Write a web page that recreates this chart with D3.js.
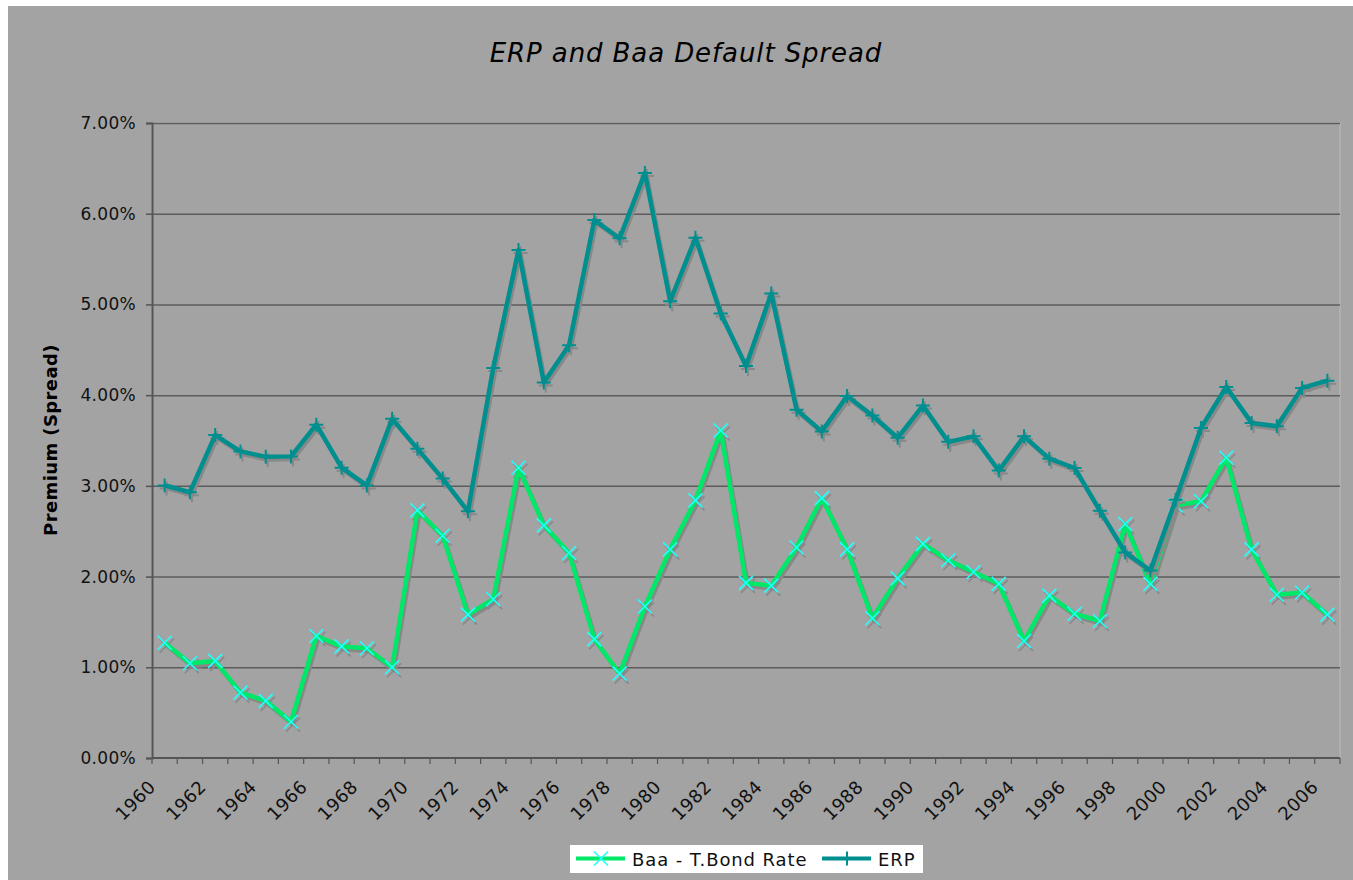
<!DOCTYPE html>
<html>

<head>
	<meta charset="utf-8">
	<style type="text/css">
		body {
			margin: 0;
			background-color: white;
			font-family: "DejaVu Sans", Verdana, sans-serif;
		}
	</style>
	<title>ERP and Baa Default Spread</title>
</head>

<body>
	<div id="chart"></div>
	<script src="https://cdnjs.cloudflare.com/ajax/libs/d3/7.8.5/d3.min.js"></script>
	<script>
		// Data (values in %)
		var years = d3.range(1960, 2007);
		var yearLabels = years.filter(function(d) { return d % 2 === 0; });
		var baaSpread = [1.27, 1.045, 1.07, 0.72, 0.63, 0.40, 1.345, 1.23, 1.21, 1.00,
			2.73, 2.45, 1.58, 1.75, 3.20, 2.565, 2.26, 1.31, 0.93, 1.67,
			2.30, 2.84, 3.61, 1.93, 1.90, 2.32, 2.865, 2.30, 1.54, 1.98,
			2.36, 2.18, 2.05, 1.92, 1.29, 1.79, 1.59, 1.51, 2.58, 1.92,
			2.785, 2.83, 3.31, 2.30, 1.80, 1.825, 1.58];
		var erp = [3.005, 2.93, 3.56, 3.38, 3.32, 3.325, 3.675, 3.20, 3.005, 3.74,
			3.41, 3.08, 2.72, 4.30, 5.60, 4.14, 4.55, 5.93, 5.73, 6.45,
			5.035, 5.735, 4.90, 4.32, 5.12, 3.84, 3.60, 3.99, 3.775, 3.53,
			3.885, 3.485, 3.546, 3.168, 3.546, 3.30, 3.197, 2.726, 2.266, 2.067,
			2.848, 3.639, 4.09, 3.694, 3.657, 4.08, 4.16];
		var yTicks = [0, 1, 2, 3, 4, 5, 6, 7];
		var seriesNames = ["Baa - T.Bond Rate", "ERP"];

		const width = 1353,
			height = 880,
			plotLeft = 152,
			plotRight = 1340,
			plotTop = 123,
			plotBottom = 758,
			baaColor = "#00e868",
			baaMarker = "#22ffff",
			erpColor = "#008f8f",
			shadowColor = "#888888";

		const svg = d3.select("#chart").append("svg")
			.attr("width", width)
			.attr("height", height);

		// chart background
		svg.append("rect")
			.attr("x", 8)
			.attr("y", 6)
			.attr("width", width - 8)
			.attr("height", height - 6)
			.style("fill", "#a3a3a3");

		svg.append("text")
			.attr("x", 686)
			.attr("y", 62)
			.attr("text-anchor", "middle")
			.style("font-style", "italic")
			.style("font-size", "26px")
			.style("letter-spacing", "0.9px")
			.text("ERP and Baa Default Spread");

		var x = d3.scaleBand().domain(years).range([plotLeft, plotRight]);
		var y = d3.scaleLinear().domain([0, 7]).range([plotBottom, plotTop]);

		// plot area border
		svg.append("rect")
			.attr("x", plotLeft)
			.attr("y", plotTop)
			.attr("width", plotRight - plotLeft)
			.attr("height", plotBottom - plotTop)
			.style("fill", "none")
			.style("stroke", "#b4b4b4")
			.style("stroke-width", 1.5);

		// gridlines
		svg.append("g").selectAll("line")
			.data(yTicks.slice(1))
			.enter().append("line")
			.attr("x1", plotLeft)
			.attr("x2", plotRight)
			.attr("y1", function(d) { return y(d) + 0.5; })
			.attr("y2", function(d) { return y(d) + 0.5; })
			.style("stroke", "#5c5c5c")
			.style("stroke-width", 1.5);

		// y axis
		var yAxis = svg.append("g")
			.attr("transform", "translate(" + plotLeft + ",0)")
			.call(d3.axisLeft(y).tickValues(yTicks).tickSize(6).tickPadding(10)
				.tickFormat(function(d) { return d.toFixed(2) + "%"; }));
		yAxis.select(".domain").style("stroke", "#555").style("stroke-width", 2);
		yAxis.selectAll(".tick line").style("stroke", "#555").style("stroke-width", 1.5);
		yAxis.selectAll(".tick text")
			.style("font-family", "DejaVu Sans")
			.style("font-size", "17px")
			.style("letter-spacing", "0.3px")
			.style("fill", "#111");

		// x axis: ticks at category boundaries
		var xAxis = svg.append("g")
			.attr("transform", "translate(0," + plotBottom + ")");
		xAxis.append("line")
			.attr("x1", plotLeft)
			.attr("x2", plotRight)
			.style("stroke", "#555")
			.style("stroke-width", 2);
		xAxis.selectAll(".tk")
			.data(years.concat([2007]))
			.enter().append("line")
			.attr("class", "tk")
			.attr("x1", function(d) { return d === 2007 ? plotRight : x(d); })
			.attr("x2", function(d) { return d === 2007 ? plotRight : x(d); })
			.attr("y1", 0)
			.attr("y2", 6)
			.style("stroke", "#555")
			.style("stroke-width", 1.2);

		svg.append("g").selectAll("text")
			.data(yearLabels)
			.enter().append("text")
			.attr("transform", function(d) {
				return "translate(" + (x(d) + x.bandwidth() / 2 - 8) + "," + 788 + ") rotate(-45)";
			})
			.attr("text-anchor", "end")
			.style("font-size", "18px")
			.style("letter-spacing", "0.4px")
			.style("fill", "#111")
			.text(function(d) { return d; });

		svg.append("text")
			.attr("transform", "translate(57,440) rotate(-90)")
			.attr("text-anchor", "middle")
			.style("font-weight", "bold")
			.style("font-size", "18px")
			.style("letter-spacing", "0.4px")
			.text("Premium (Spread)");

		var line = d3.line()
			.x(function(d, i) { return x(years[i]) + x.bandwidth() / 2; })
			.y(function(d) { return y(d); });

		function crossPath(s) {
			return "M" + (-s) + "," + (-s) + "L" + s + "," + s + "M" + (-s) + "," + s + "L" + s + "," + (-s);
		}

		function plusPath(s) {
			return "M" + (-s) + ",0L" + s + ",0M0," + (-s) + "L0," + s;
		}

		function drawSeries(values, color, markColor, markPath, markWidth) {
			var g = svg.append("g");
			// drop shadow
			g.append("path")
				.datum(values)
				.attr("d", line)
				.attr("transform", "translate(2,3)")
				.style("fill", "none")
				.style("stroke", shadowColor)
				.style("stroke-width", 4)
				.style("stroke-linejoin", "round");
			g.selectAll(".shadowmark")
				.data(values)
				.enter().append("path")
				.attr("d", markPath)
				.attr("transform", function(d, i) {
					return "translate(" + (x(years[i]) + x.bandwidth() / 2 + 2) + "," + (y(d) + 3) + ")";
				})
				.style("stroke", shadowColor)
				.style("stroke-width", markWidth);
			g.append("path")
				.datum(values)
				.attr("d", line)
				.style("fill", "none")
				.style("stroke", color)
				.style("stroke-width", 4.5)
				.style("stroke-linejoin", "round");
			g.selectAll(".mark")
				.data(values)
				.enter().append("path")
				.attr("d", markPath)
				.attr("transform", function(d, i) {
					return "translate(" + (x(years[i]) + x.bandwidth() / 2) + "," + y(d) + ")";
				})
				.style("stroke", markColor)
				.style("stroke-width", markWidth);
		}

		drawSeries(baaSpread, baaColor, baaMarker, crossPath(7), 1.6);
		drawSeries(erp, erpColor, erpColor, plusPath(7), 2);

		// legend
		var legend = svg.append("g");
		legend.append("rect")
			.attr("x", 570)
			.attr("y", 845)
			.attr("width", 353)
			.attr("height", 28)
			.style("fill", "white");

		var legendItems = [
			{ x: 576, color: baaColor, mark: baaMarker, path: crossPath(7), w: 1.6 },
			{ x: 822, color: erpColor, mark: erpColor, path: plusPath(7), w: 2 }
		];
		legendItems.forEach(function(e, i) {
			legend.append("line")
				.attr("x1", e.x)
				.attr("x2", e.x + 49)
				.attr("y1", 858.5)
				.attr("y2", 858.5)
				.style("stroke", e.color)
				.style("stroke-width", 4);
			legend.append("path")
				.attr("d", e.path)
				.attr("transform", "translate(" + (e.x + 25) + ",858.5)")
				.style("stroke", e.mark)
				.style("stroke-width", e.w);
			legend.append("text")
				.attr("x", e.x + 56)
				.attr("y", 865.5)
				.style("font-size", "18px")
				.style("letter-spacing", "0.9px")
				.style("fill", "#111")
				.text(seriesNames[i]);
		});
	</script>
</body>

</html>
